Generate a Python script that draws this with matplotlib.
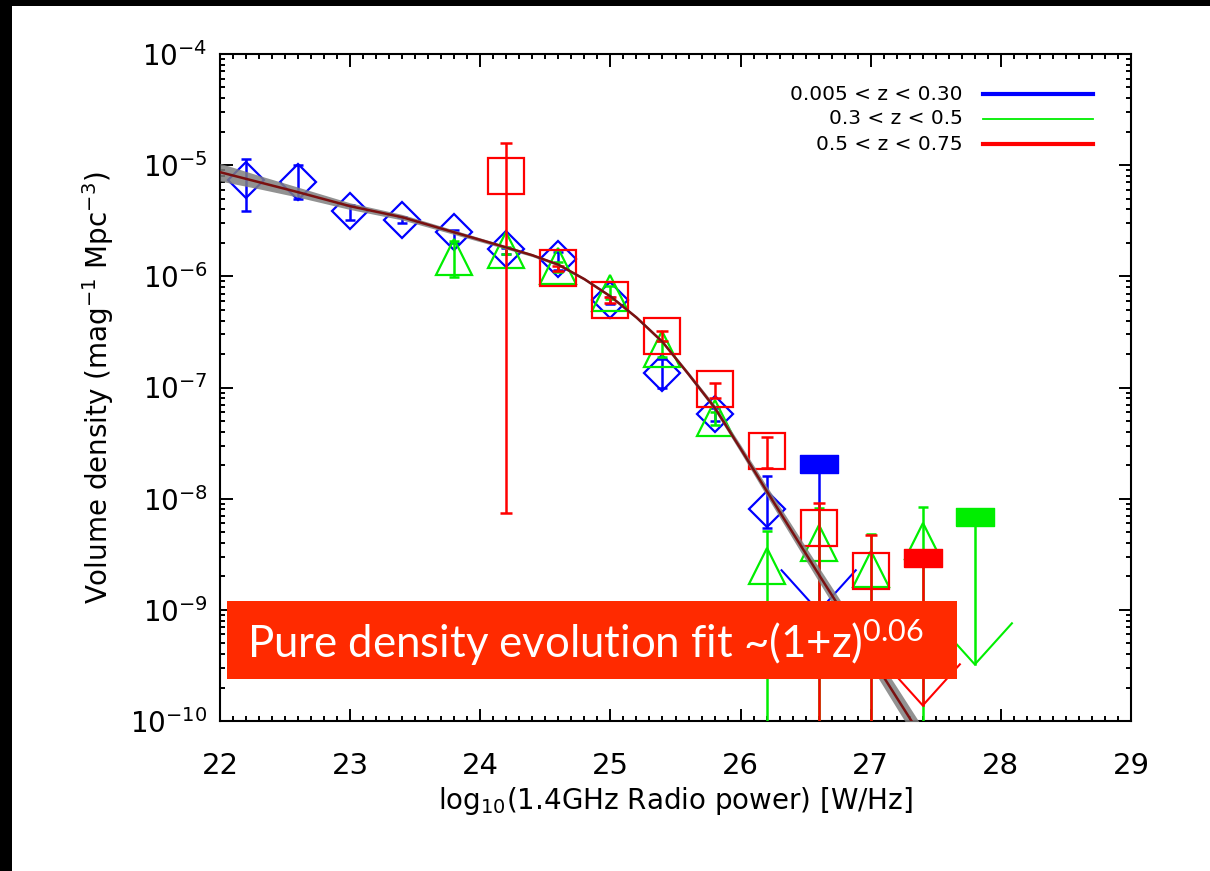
import numpy as np
import matplotlib
matplotlib.use("Agg")
import matplotlib.pyplot as plt
from matplotlib.lines import Line2D
from matplotlib.patches import Rectangle
from matplotlib.ticker import MultipleLocator, LogLocator, NullFormatter

plt.rcParams['font.family'] = ['DejaVu Sans']
plt.rcParams['mathtext.default'] = 'regular'

# ---- luminosity function points: 0.005 < z < 0.30 ----
blue_x = [22.2, 22.6, 23.0, 23.4, 23.8, 24.2, 24.6, 25.0, 25.4, 25.8, 26.2]
blue_y = [7.3e-6, 7.0e-6, 3.86e-6, 3.2e-6, 2.49e-6, 1.75e-6, 1.42e-6, 6.1e-7, 1.36e-7, 5.8e-8, 8.1e-9]
blue_hi = [1.13e-5, 1.0e-5, 4.36e-6, 3.4e-6, 2.6e-6, 1.8e-6, 1.64e-6, 6.5e-7, 1.82e-7, 6.6e-8, 1.61e-8]
blue_lo = [3.86e-6, 5.0e-6, 3.2e-6, 3.0e-6, 2.0e-6, 1.6e-6, 1.14e-6, 5.6e-7, 1.0e-7, 5.0e-8, 5.4e-9]
blue_lim_x = [26.6]
blue_lim_y = [2.07e-8]

# ---- 0.3 < z < 0.5 ----
green_x = [23.8, 24.2, 24.6, 25.0, 25.4, 25.8, 26.2, 26.6, 27.0, 27.4]
green_y = [1.5e-6, 1.73e-6, 1.24e-6, 7.1e-7, 2.22e-7, 5.3e-8, 2.49e-9, 3.97e-9, 2.32e-9, 4.2e-9]
green_hi = [2.1e-6, 1.85e-6, 1.35e-6, 8.2e-7, 2.6e-7, 6.0e-8, 5.15e-9, 8.3e-9, 4.8e-9, 8.5e-9]
green_lo = [9.8e-7, 1.6e-6, 1.1e-6, 6.2e-7, 1.9e-7, 4.6e-8, 1e-12, 1e-12, 1e-12, 1e-12]
green_lim_x = [27.8]
green_lim_y = [6.9e-9]

# ---- 0.5 < z < 0.75 ----
red_x = [24.2, 24.6, 25.0, 25.4, 25.8, 26.2, 26.6, 27.0]
red_y = [7.96e-6, 1.19e-6, 6.1e-7, 2.91e-7, 9.6e-8, 2.68e-8, 5.4e-9, 2.24e-9]
red_hi = [1.58e-5, 1.25e-6, 6.5e-7, 3.2e-7, 1.09e-7, 3.55e-8, 9.2e-9, 4.7e-9]
red_lo = [7.5e-9, 1.12e-6, 5.8e-7, 2.6e-7, 8.1e-8, 1.9e-8, 1e-12, 1e-12]
red_lim_x = [27.4]
red_lim_y = [2.95e-9]

# ---- pure density evolution fit (log10 density) and its uncertainty band ----
fit_x = [22.0, 22.3, 22.6, 23.0, 23.4, 23.8, 24.2, 24.4, 24.6, 24.8, 25.0, 25.2, 25.4, 25.6,
         25.8, 26.0, 26.2, 26.4, 26.6, 26.8, 27.0, 27.2, 27.4]
fit_logy = [-5.063, -5.153, -5.243, -5.369, -5.468, -5.604, -5.740, -5.810, -5.895, -6.025,
            -6.180, -6.370, -6.590, -6.880, -7.180, -7.550, -7.930, -8.305, -8.680, -9.050,
            -9.420, -9.790, -10.16]
band_half = [0.08, 0.06, 0.045, 0.03, 0.025, 0.02, 0.015, 0.013, 0.012, 0.012, 0.012, 0.013,
             0.015, 0.02, 0.025, 0.035, 0.045, 0.055, 0.065, 0.075, 0.085, 0.095, 0.10]

legend_labels = ['0.005 < z < 0.30', '0.3 < z < 0.5', '0.5 < z < 0.75']
legend_colors = ['#0000ff', '#00ee00', '#ff0000']
legend_widths = [3.0, 1.3, 3.0]

W, H = 1210, 871
fig = plt.figure(figsize=(W / 100, H / 100), dpi=100)
fig.patch.set_facecolor('white')

# frame strips along the top and left edges
fig.add_artist(Rectangle((0, 1 - 6 / H), 1, 6 / H, transform=fig.transFigure,
                         facecolor='black', edgecolor='none', zorder=0))
fig.add_artist(Rectangle((0, 0), 12 / W, 1, transform=fig.transFigure,
                         facecolor='black', edgecolor='none', zorder=0))

ax_l, ax_r, ax_t, ax_b = 220, 1131, 54, 721
ax = fig.add_axes([ax_l / W, 1 - ax_b / H, (ax_r - ax_l) / W, (ax_b - ax_t) / H])
ax.set_yscale('log')
ax.set_xlim(22, 29)
ax.set_ylim(1e-10, 1e-4)

# fit band and line
fx = np.array(fit_x)
fl = np.array(fit_logy)
bh = np.array(band_half)
ax.fill_between(fx, 10 ** (fl - bh), 10 ** (fl + bh), color='#7f7f7f', alpha=0.85,
                linewidth=0, zorder=6)
ax.plot(fx, 10 ** fl, color='#7a1010', lw=1.8, zorder=7)


def draw_series(x, y, lo, hi, color, marker, ms, cap, z):
    x = np.array(x); y = np.array(y)
    yerr = [y - np.array(lo), np.array(hi) - y]
    ax.errorbar(x, y, yerr=yerr, fmt='none', ecolor=color, elinewidth=1.8,
                capsize=cap, capthick=1.8, zorder=z)
    ax.plot(x, y, linestyle='none', marker=marker, markersize=ms, markerfacecolor='none',
            markeredgecolor=color, markeredgewidth=1.6, zorder=z)


rect_marker = [(-0.5, -0.23), (0.5, -0.23), (0.5, 0.23), (-0.5, 0.23), (-0.5, -0.23)]


def draw_limits(x, y, color, z):
    for xi, yi in zip(x, y):
        yv = yi * 10 ** -1.33
        ax.plot([xi, xi], [yi, yv], color=color, lw=1.8, zorder=z)
        ax.plot([xi - 0.285, xi, xi + 0.285], [yv * 10 ** 0.37, yv, yv * 10 ** 0.37],
                color=color, lw=1.5, zorder=z)
        ax.plot([xi], [yi], linestyle='none', marker=rect_marker, markersize=27,
                markerfacecolor=color, markeredgecolor=color, zorder=z)


draw_series(blue_x, blue_y, blue_lo, blue_hi, '#0000ff', 'D', 18.5, 3.6, 3)
draw_limits(blue_lim_x, blue_lim_y, '#0000ff', 3)
draw_series(green_x, green_y, green_lo, green_hi, '#00ee00', '^', 26.5, 3.6, 4)
draw_limits(green_lim_x, green_lim_y, '#00ee00', 4)
draw_series(red_x, red_y, red_lo, red_hi, '#ff0000', 's', 26.5, 4.2, 5)
draw_limits(red_lim_x, red_lim_y, '#ff0000', 5)

# axes styling
for s in ax.spines.values():
    s.set_linewidth(1.5)
ax.xaxis.set_major_locator(MultipleLocator(1))
ax.xaxis.set_minor_locator(MultipleLocator(0.1))
ax.yaxis.set_major_locator(LogLocator(base=10, numticks=20))
ax.yaxis.set_minor_locator(LogLocator(base=10, subs=np.arange(2, 10), numticks=20))
ax.yaxis.set_minor_formatter(NullFormatter())
ax.tick_params(which='both', direction='in', top=True, right=True, width=1.4)
ax.tick_params(which='major', length=9)
ax.tick_params(which='minor', length=3.5)
ax.tick_params(axis='x', which='major', labelsize=21, pad=22)
ax.tick_params(axis='y', which='major', labelsize=20, pad=9)

ax.set_xlabel('log$_{10}$(1.4GHz Radio power) [W/Hz]', fontsize=20, labelpad=4)
ax.set_ylabel('Volume density (mag$^{-1}$ Mpc$^{-3}$)', fontsize=20, labelpad=10)

# legend drawn as text + line samples
for i, (lab, col, lw) in enumerate(zip(legend_labels, legend_colors, legend_widths)):
    yy = 1 - (94 + 25 * i) / H
    fig.text(963 / W, yy, lab, ha='right', va='center', fontsize=14.5, color='black')
    fig.add_artist(Line2D([983 / W, 1093 / W], [yy, yy], transform=fig.transFigure,
                          color=col, lw=lw))

# highlighted annotation box
fig.add_artist(Rectangle((227 / W, 1 - 679 / H), 730 / W, 78 / H, transform=fig.transFigure,
                         facecolor='#ff2a00', edgecolor='none', zorder=10))
plt.rcParams['mathtext.fontset'] = 'custom'
plt.rcParams['mathtext.rm'] = 'Lato'
fig.text(247 / W, 1 - 658 / H, 'Pure density evolution fit ~(1+z)$^{0.06}$', ha='left',
         va='baseline', fontsize=31.5, color='white', family='Lato', zorder=11)

fig.savefig('out.png', dpi=100)
